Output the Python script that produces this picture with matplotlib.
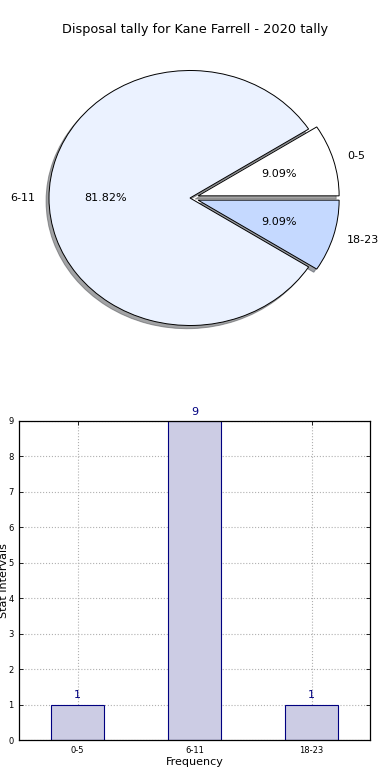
import matplotlib
matplotlib.use('Agg')
import matplotlib.pyplot as plt
import numpy as np

# data
labels = ['0-5', '6-11', '18-23']
counts = [1, 9, 1]
explode = [0.06, 0, 0.06]
pie_colors = ['#ffffff', '#ebf2ff', '#c5d9ff']
title = 'Disposal tally for Kane Farrell - 2020 tally'

W, H = 390, 780
fig = plt.figure(figsize=(W / 100, H / 100), dpi=100)


def px_axes(x0, y0, x1, y1):
    # pixel box (top-left origin) -> figure axes
    return fig.add_axes([x0 / W, 1 - y1 / H, (x1 - x0) / W, (y1 - y0) / H])


# ---- pie ----
ax1 = px_axes(19, 55, 370, 345)
cx, cy, sx, sy = 190, 198, 141, 127.5
ax1.pie(counts, labels=labels, explode=explode, colors=pie_colors,
        autopct='%1.2f%%', shadow=dict(ox=-0.015, oy=-0.018),
        startangle=0,
        wedgeprops=dict(edgecolor='black', linewidth=0.7),
        textprops=dict(fontsize=8))
ax1.set_xlim((19 - cx) / sx, (370 - cx) / sx)
ax1.set_ylim(-(345 - cy) / sy, (cy - 55) / sy)
ax1.set_aspect('auto')
ax1.axis('off')
fig.text(0.5, 1 - 30 / H, title, ha='center', va='center', fontsize=9.3)

# ---- bar ----
ax2 = px_axes(19, 421, 370, 740)
x = np.arange(len(labels))
ax2.bar(x, counts, width=0.45, color='#cccce4', edgecolor='navy',
        linewidth=0.8, zorder=2)
for xi, c in zip(x, counts):
    ax2.text(xi, c + 0.12, str(c), ha='center', va='bottom',
             color='navy', fontsize=8)
ax2.set_xlim(-0.5, 2.5)
ax2.set_ylim(0, 9)
ax2.set_xticks(x)
ax2.set_xticklabels(labels)
ax2.set_yticks(range(10))
ax2.tick_params(direction='in', top=True, right=True, labelsize=6,
                length=3, width=0.6, pad=4)
ax2.grid(True, linestyle=':', color='#b0b0b0', linewidth=0.8, zorder=0)
ax2.set_axisbelow(True)
for s in ax2.spines.values():
    s.set_linewidth(0.9)
ax2.set_xlabel('Frequency', fontsize=8, labelpad=2)
ax2.set_ylabel('Stat Intervals', fontsize=8)
ax2.yaxis.set_label_coords(-0.029, 0.5)

fig.savefig('out.png', dpi=100)
